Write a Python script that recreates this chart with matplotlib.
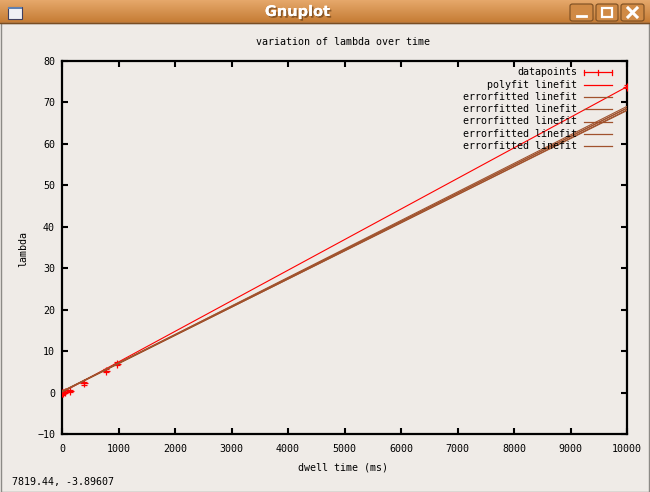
import matplotlib
matplotlib.use("Agg")
import matplotlib.pyplot as plt
import matplotlib.patheffects as pe
import numpy as np
from matplotlib.patches import Rectangle, FancyBboxPatch
from matplotlib.lines import Line2D

# ---------------- data ----------------
dwell_ms = [0, 20, 50, 140, 395, 775, 980, 10000]
lam = [-0.2, 0.0, 0.2, 0.4, 2.2, 5.3, 7.0, 73.8]
lam_err = [0.3, 0.3, 0.3, 0.3, 0.3, 0.4, 0.4, 0.4]

polyfit_coef = (0.0, 0.00738)          # intercept, slope
errorfit_coefs = [(0.25, 0.00678), (0.20, 0.00680), (0.30, 0.00683),
                  (0.15, 0.00685), (0.25, 0.00688)]
x_range = [0, 10000]

legend_labels = ["datapoints", "polyfit linefit"] + ["errorfitted linefit"] * 5
title = "variation of lambda over time"
xlabel = "dwell time (ms)"
ylabel = "lambda"
status_text = "7819.44, -3.89607"
window_title = "Gnuplot"

# ---------------- style ----------------
BG = "#EFEBE7"
RED = "#FF0000"
BROWN = "#A0522D"
FONT = "DejaVu Sans Mono"
FS = 7.2

W, H = 650, 492
def fx(px): return px / W
def fy(py): return 1 - py / H

fig = plt.figure(figsize=(6.5, 4.92), dpi=100)
fig.patch.set_facecolor(BG)

ax = fig.add_axes([fx(62), fy(434), fx(627) - fx(62), fy(61) - fy(434)])
ax.set_facecolor(BG)

# data points with error bars
ax.errorbar(dwell_ms, lam, yerr=lam_err, fmt='+', color=RED, ms=6, mew=0.9,
            elinewidth=0.9, capsize=2, capthick=0.9, zorder=3)
# polyfit line
xr = np.array(x_range, dtype=float)
ax.plot(xr, polyfit_coef[0] + polyfit_coef[1] * xr, color=RED, lw=0.8, zorder=3)
# error-fitted lines
for a, b in errorfit_coefs:
    ax.plot(xr, a + b * xr, color=BROWN, lw=0.8, zorder=4)

ax.set_xlim(0, 10000)
ax.set_ylim(-10, 80)
ax.set_xticks(np.arange(0, 10001, 1000))
ax.set_yticks(np.arange(-10, 81, 10))
for s in ax.spines.values():
    s.set_linewidth(1.6)
    s.set_color("black")
ax.tick_params(direction="in", length=4, width=1.5, top=True, right=True,
               labelsize=FS, colors="black")
ax.tick_params(axis="x", pad=7)
ax.tick_params(axis="y", pad=5)
for lab in ax.get_xticklabels() + ax.get_yticklabels():
    lab.set_family(FONT)

fig.text(fx(343), fy(42), title, ha="center", va="center", family=FONT, fontsize=FS)
fig.text(fx(343), fy(467), xlabel, ha="center", va="center", family=FONT, fontsize=FS)
fig.text(fx(23), fy(249), ylabel, ha="center", va="center", rotation=90,
         family=FONT, fontsize=FS)

# manual gnuplot-style key
row_y = [72.3, 84.6, 96.9, 109.2, 121.5, 133.8, 146.1]
for i, lab in enumerate(legend_labels):
    y = fy(row_y[i])
    fig.text(fx(577), y, lab, ha="right", va="center", family=FONT, fontsize=FS)
    col = RED if i < 2 else BROWN
    fig.add_artist(Line2D([fx(584), fx(612)], [y, y], color=col, lw=0.9,
                          transform=fig.transFigure))
    if i == 0:
        for xp in (584, 598, 612):
            fig.add_artist(Line2D([fx(xp), fx(xp)], [fy(row_y[i] - 2.5), fy(row_y[i] + 2.5)],
                                  color=col, lw=0.9, transform=fig.transFigure))

# ---------------- window chrome ----------------
tb = fig.add_axes([0, fy(23), 1, 23 / H])
grad = np.linspace(0, 1, 50)[:, None]
c_top = np.array([0.90, 0.66, 0.42])
c_bot = np.array([0.77, 0.48, 0.20])
img = c_top[None, None, :] * (1 - grad[:, :, None]) + c_bot[None, None, :] * grad[:, :, None]
img = np.repeat(img, 2, axis=1)
tb.imshow(img, aspect="auto", extent=[0, 1, 0, 1])
tb.set_xlim(0, 1); tb.set_ylim(0, 1)
tb.axis("off")
tb.text(0.458, 0.5, window_title, ha="center", va="center", color="white",
        fontsize=10.5, fontweight="bold", family="DejaVu Sans",
        path_effects=[pe.withSimplePatchShadow(offset=(1.2, -1.2),
                                               shadow_rgbFace="#5a3410", alpha=0.6),
                      pe.Normal()])

# separator line under title bar
fig.add_artist(Line2D([0, 1], [fy(23.3), fy(23.3)], color="#7a4d22", lw=1.0,
                      transform=fig.transFigure))

# window icon
fig.add_artist(Rectangle((fx(8), fy(19)), fx(22) - fx(8), fy(7) - fy(19),
                         facecolor="#F0F0F4", edgecolor="#404060", lw=0.8,
                         transform=fig.transFigure))
fig.add_artist(Rectangle((fx(8), fy(9)), fx(22) - fx(8), fy(7) - fy(9),
                         facecolor="#6080B0", edgecolor="none",
                         transform=fig.transFigure))

# buttons
for x0, x1 in [(570, 593), (596, 618), (621, 644)]:
    fig.add_artist(FancyBboxPatch((fx(x0), fy(21)), fx(x1) - fx(x0), fy(4) - fy(21),
                                  boxstyle="round,pad=0,rounding_size=0.004",
                                  facecolor="#D08A45", edgecolor="#7a4d22", lw=0.8,
                                  transform=fig.transFigure))
# minimize
fig.add_artist(Line2D([fx(577), fx(586)], [fy(16), fy(16)], color="white", lw=2,
                      transform=fig.transFigure))
# maximize
fig.add_artist(Rectangle((fx(602), fy(17)), fx(612) - fx(602), fy(8) - fy(17),
                         facecolor="none", edgecolor="white", lw=1.6,
                         transform=fig.transFigure))
# close
fig.add_artist(Line2D([fx(628), fx(637)], [fy(8), fy(17)], color="white", lw=2.2,
                      transform=fig.transFigure))
fig.add_artist(Line2D([fx(628), fx(637)], [fy(17), fy(8)], color="white", lw=2.2,
                      transform=fig.transFigure))

# outer window border
fig.add_artist(Rectangle((0.001, 0.001), 0.998, fy(23) - 0.001, facecolor="none",
                         edgecolor="#8c8a86", lw=1.0, transform=fig.transFigure))

# status bar text
fig.text(fx(12), fy(482), status_text, ha="left", va="center", family=FONT, fontsize=FS)

fig.savefig("out.png", dpi=100, facecolor=BG)
